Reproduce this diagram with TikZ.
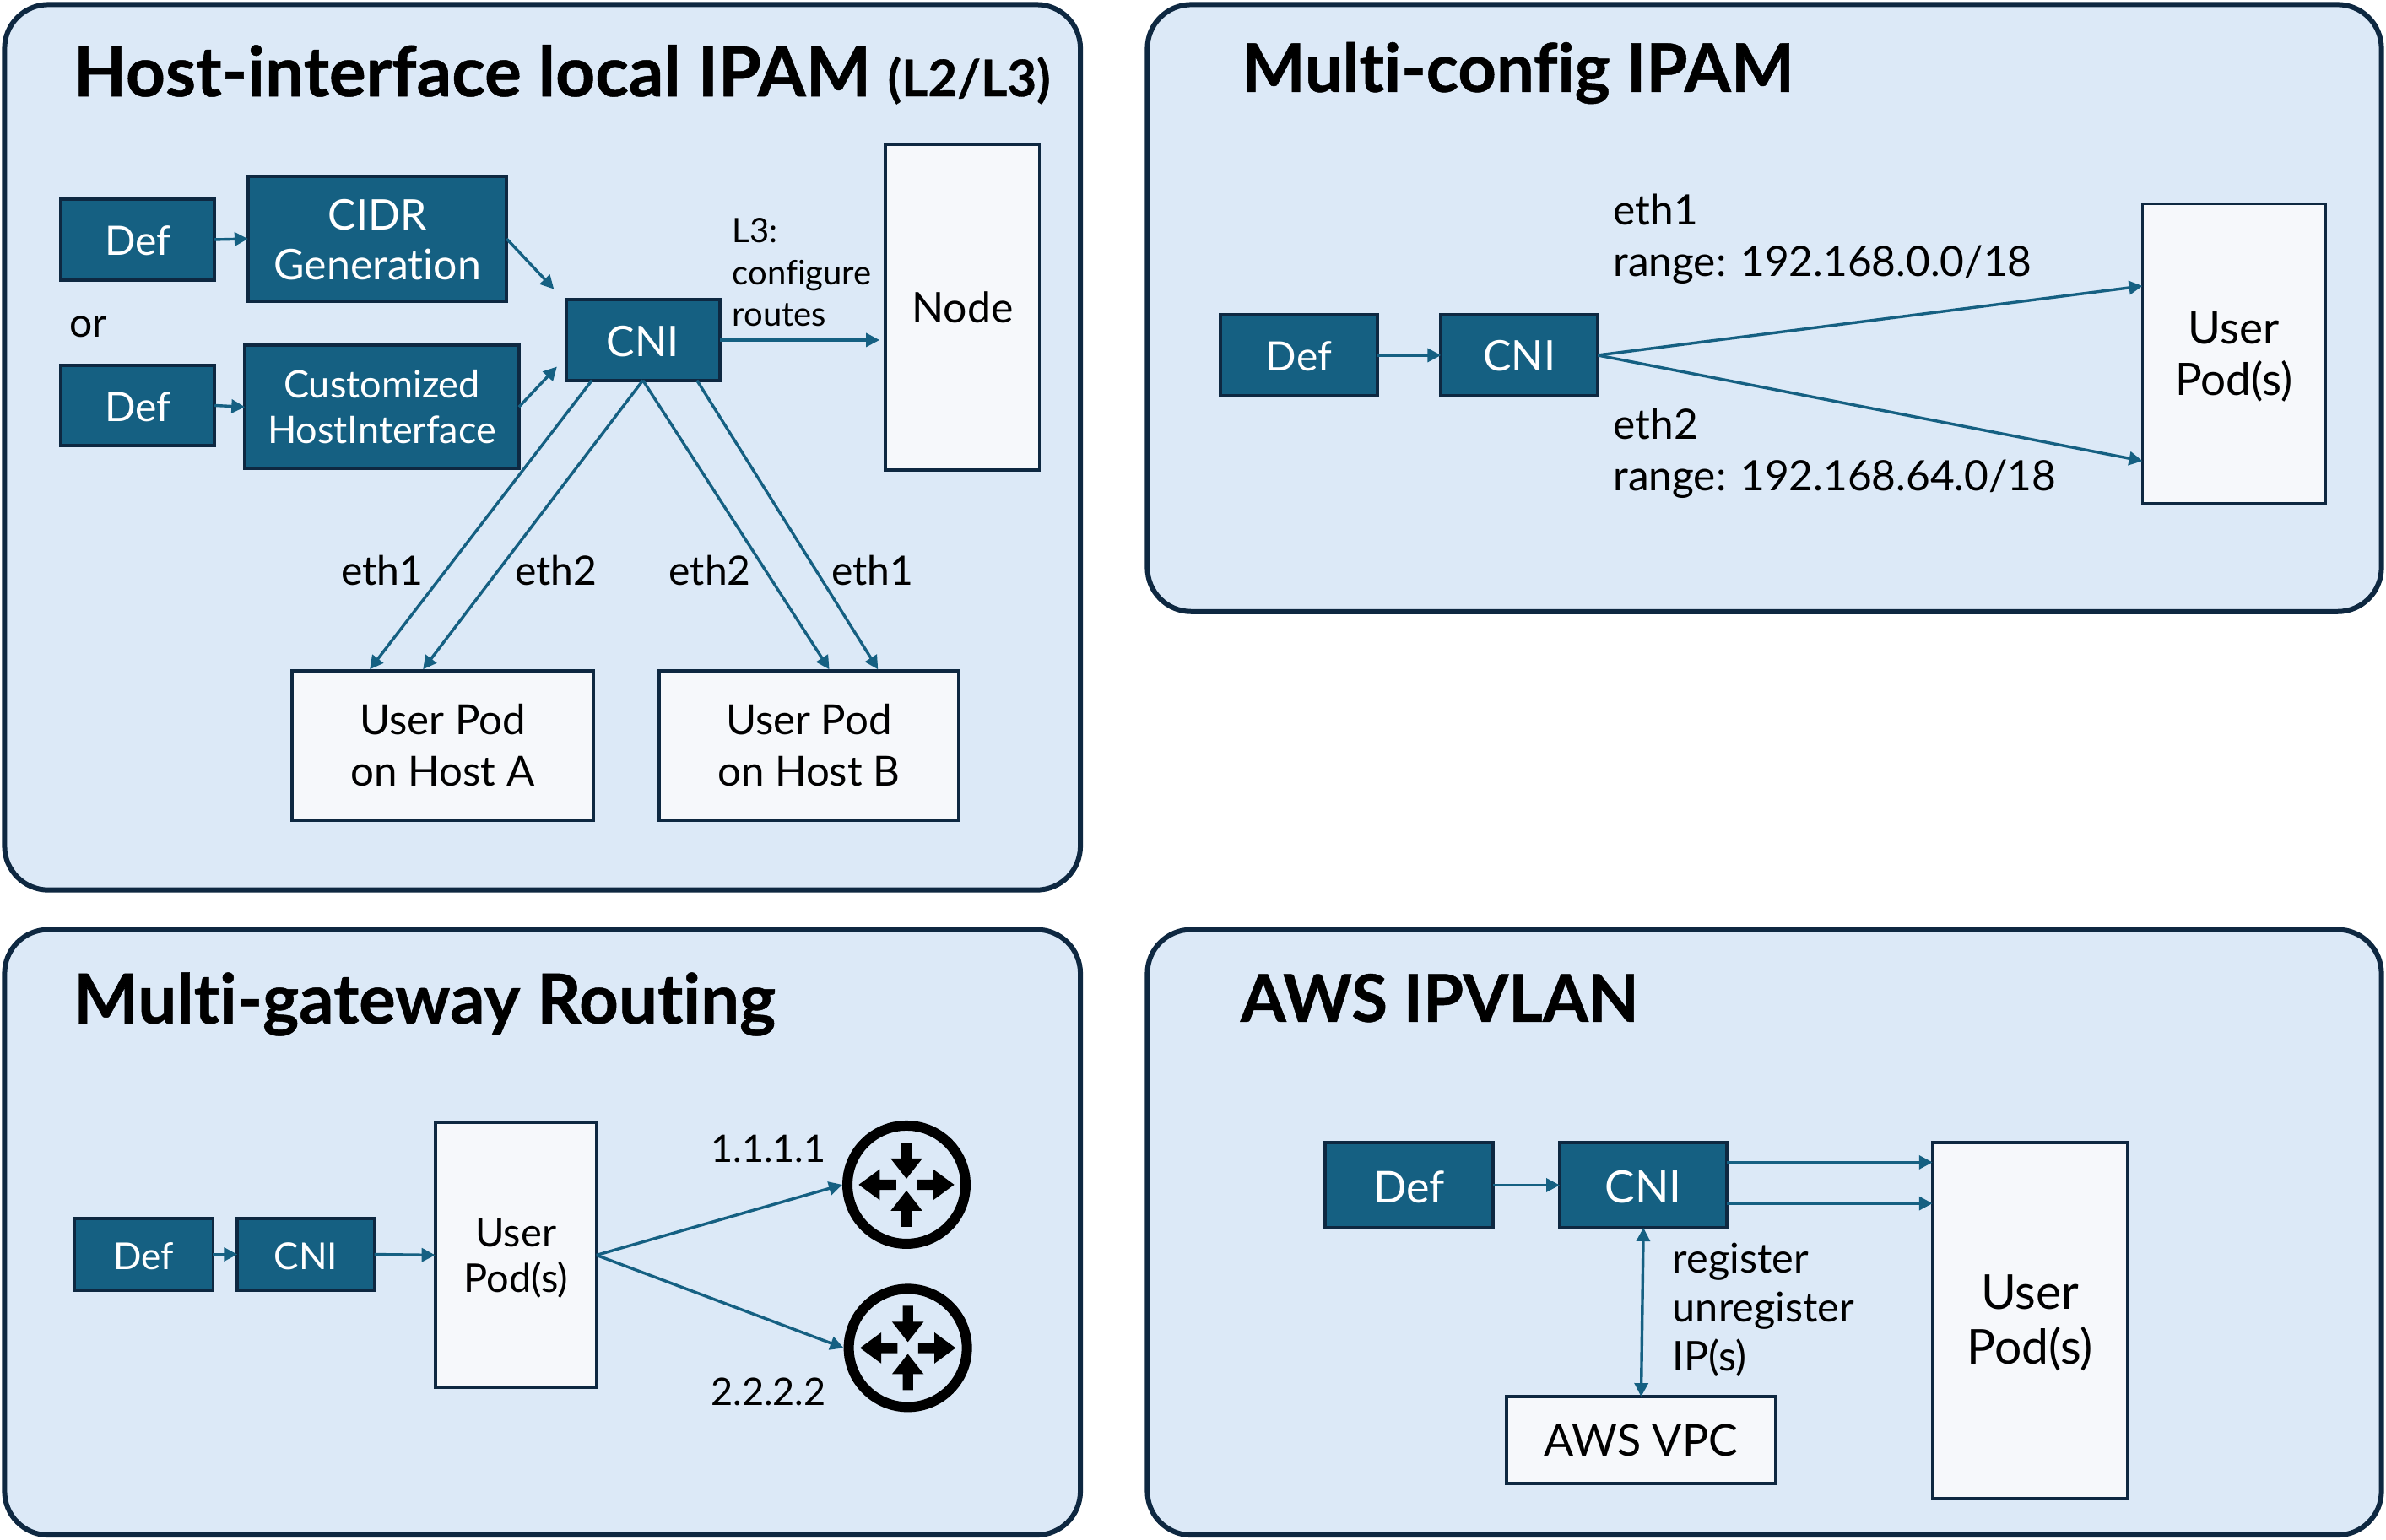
\documentclass[tikz,border=0pt]{standalone}
\usepackage{fontspec}
\setmainfont[Ligatures=NoCommon,BoldFeatures={FakeBold=0.6}]{Lato}
\usetikzlibrary{arrows.meta}
\definecolor{panelfill}{HTML}{DCE9F7}
\definecolor{navy}{HTML}{0E2841}
\definecolor{teal}{HTML}{156082}
\definecolor{lightbox}{HTML}{F6F8FB}
\newcommand{\txtL}{\fontsize{24pt}{29.7pt}\selectfont}
\newcommand{\tp}[1]{\rule{0pt}{#1}}
\tikzset{
  x=0.9015pt, y=-0.9015pt,
  panel/.style={draw=navy, fill=panelfill, line width=3pt, rounded corners=26pt},
  dims/.style n args={2}{minimum width=#1*0.9015pt, minimum height=#2*0.9015pt, inner sep=0pt, outer sep=0pt},
  onel/.style={text height=#1, text depth=0pt},
  darkbox/.style={draw=navy, fill=teal, line width=1.9pt, text=white, align=center},
  whitebox/.style={draw=navy, fill=lightbox, line width=1.9pt, text=black, align=center},
  title/.style={anchor=west, inner sep=0pt, font=\fontsize{41pt}{44pt}\selectfont\bfseries},
  label/.style={inner sep=0pt, align=left, font=\txtL},
  arr/.style={draw=teal, line width=1.7pt, -{Triangle[length=8pt,width=8pt]}},
  barr/.style={draw=teal, line width=1.7pt, {Triangle[length=8pt,width=8pt]}-{Triangle[length=8pt,width=8pt]}},
  routerring/.style={circle, draw=black, line width=6pt, fill=panelfill, minimum size=70pt, inner sep=0pt, outer sep=3pt},
}
\newcommand{\routerarrows}[2]{%
  \begin{scope}[shift={(#1,#2)}]
    \foreach \a in {90,270}{
      \fill[black,rotate=\a] (3.9,0) -- (17.2,-10.4) -- (17.2,-3.4) -- (27.7,-3.4) -- (27.7,3.4) -- (17.2,3.4) -- (17.2,10.4) -- cycle;
    }
    \foreach \a in {0,180}{
      \fill[black,rotate=\a] (31.4,0) -- (17.5,-10.2) -- (17.5,-3.4) -- (6.8,-3.4) -- (6.8,3.4) -- (17.5,3.4) -- (17.5,10.2) -- cycle;
    }
  \end{scope}}
\begin{document}
\begin{tikzpicture}[font=\txtL]
\useasboundingbox (0,0) rectangle (1568,1011.7);
% panels
\draw[panel] (3,3) rectangle (710,585);
\draw[panel] (754,3) rectangle (1565,402);
\draw[panel] (3,611) rectangle (710,1009);
\draw[panel] (754,611) rectangle (1565,1009);
% titles
\node[title] (t1) at (48,49) {Host-interface local IPAM \fontsize{30pt}{32pt}\selectfont (L2/L3)};
\node[title,font=\fontsize{39.7pt}{44pt}\selectfont\bfseries] (t2) at (816,48) {Multi-config IPAM};
\node[title,font=\fontsize{40.8pt}{44pt}\selectfont\bfseries] (t3) at (48,660) {Multi-gateway Routing};
\node[title,font=\fontsize{38.9pt}{44pt}\selectfont\bfseries] (t4) at (815,656) {AWS IPVLAN};
% panel 1
\node[darkbox,dims={101}{53},onel=19pt] (def1) at (90.5,157.5) {Def};
\node[darkbox,dims={170}{82},font=\fontsize{25pt}{29.7pt}\selectfont] (cidr) at (248,157) {\tp{19pt}CIDR\\Generation};
\node[darkbox,dims={101}{53},onel=19pt] (def2) at (90.5,266.5) {Def};
\node[darkbox,dims={180}{81},font=\fontsize{22.5pt}{27pt}\selectfont] (hostif) at (251,267.5) {Customized\\HostInterface};
\node[darkbox,dims={101}{53},font=\fontsize{25pt}{29.7pt}\selectfont,onel=19.8pt] (cni1) at (422.5,223.5) {CNI};
\node[whitebox,dims={101}{214},font=\fontsize{25pt}{29.7pt}\selectfont] (node1) at (632.5,202) {Node};
\node[whitebox,dims={198}{98},font=\fontsize{24.6pt}{30.4pt}\selectfont] (poda) at (291,490) {User Pod\\on Host A};
\node[whitebox,dims={197}{98},font=\fontsize{24.6pt}{30.4pt}\selectfont] (podb) at (531.5,490) {User Pod\\on Host B};
\node[label] (or) at (58,215) {or};
\node[label,anchor=west,font=\fontsize{20pt}{24.7pt}\selectfont] (l3) at (481,179) {L3:\\configure\\routes};
\node[label] (e1a) at (251,375) {eth1};
\node[label] (e2a) at (365.5,375) {eth2};
\node[label] (e2b) at (466.5,375) {eth2};
\node[label] (e1b) at (573.5,375) {eth1};
\coordinate (c1in) at (364,190);
\coordinate (c2in) at (366,241);
\coordinate (nodein) at (578,223.5);
\coordinate (paIn1) at (243,440);
\coordinate (paIn2) at (278,440);
\coordinate (pbIn1) at (545,440);
\coordinate (pbIn2) at (577,440);
\coordinate (cniOut1) at (389,250);
\coordinate (cniOut2) at (458,250);
\draw[arr] (def1.east) -- (cidr.west);
\draw[arr] (def2.east) -- (hostif.west);
\draw[arr] (cidr.east) -- (c1in);
\draw[arr] (hostif.east) -- (c2in);
\draw[arr] (cni1.east) -- (nodein);
\draw[arr] (cniOut1) -- (paIn1);
\draw[arr] (cni1.south) -- (paIn2);
\draw[arr] (cni1.south) -- (pbIn1);
\draw[arr] (cniOut2) -- (pbIn2);
% panel 2
\node[darkbox,dims={103}{53},onel=19pt] (def3) at (853.5,233.5) {Def};
\node[darkbox,dims={103}{53},font=\fontsize{25pt}{29.7pt}\selectfont,onel=18.5pt] (cni2) at (998.5,233.5) {CNI};
\node[whitebox,dims={120}{197},font=\fontsize{26.5pt}{30.4pt}\selectfont] (pods2) at (1468,232.5) {\tp{22.6pt}User\\Pod(s)};
\node[label,anchor=west,font=\fontsize{24.8pt}{30.6pt}\selectfont] (lab21) at (1060,157) {eth1\\range: 192.168.0.0/18};
\node[label,anchor=west,font=\fontsize{24.8pt}{30.6pt}\selectfont] (lab22) at (1060,298) {eth2\\range: 192.168.64.0/18};
\coordinate (p2a) at (1408,188);
\coordinate (p2b) at (1408,303);
\draw[arr] (def3.east) -- (cni2.west);
\draw[arr] (cni2.east) -- (p2a);
\draw[arr] (cni2.east) -- (p2b);
% panel 3
\node[darkbox,dims={91}{47},font=\fontsize{22pt}{27pt}\selectfont,onel=17.6pt] (def4) at (94.5,824.5) {Def};
\node[darkbox,dims={90}{47},font=\fontsize{22pt}{27pt}\selectfont,onel=17.6pt] (cni3) at (201,824.5) {CNI};
\node[whitebox,dims={106}{174},font=\fontsize{23.5pt}{27pt}\selectfont] (pods3) at (339,825) {\tp{20.2pt}User\\Pod(s)};
\node[routerring] (r1) at (595.7,778.7) {};
\routerarrows{595.7}{778.7}
\node[routerring] (r2) at (596.6,886) {};
\routerarrows{596.6}{886}
\node[label,font=\fontsize{22.5pt}{27pt}\selectfont] (ip1) at (505,755) {1.1.1.1};
\node[label,font=\fontsize{22.5pt}{27pt}\selectfont] (ip2) at (505,915) {2.2.2.2};
\draw[arr] (def4.east) -- (cni3.west);
\draw[arr] (cni3.east) -- (pods3.west);
\draw[arr] (pods3.east) -- (r1.west);
\draw[arr] (pods3.east) -- (r2.west);
% panel 4
\node[darkbox,dims={110}{56},font=\fontsize{26pt}{30pt}\selectfont,onel=20.6pt] (def5) at (926,779) {Def};
\node[darkbox,dims={110}{56},font=\fontsize{26.5pt}{30pt}\selectfont,onel=20.6pt] (cni4) at (1080,779) {CNI};
\node[whitebox,dims={128}{234},font=\fontsize{28.5pt}{32.5pt}\selectfont] (pods4) at (1334,868) {\tp{23pt}User\\Pod(s)};
\node[whitebox,dims={177}{57},font=\fontsize{26pt}{30pt}\selectfont] (vpc) at (1078.5,946.5) {AWS VPC};
\node[label,anchor=west,font=\fontsize{24.3pt}{29pt}\selectfont] (reg) at (1099,861) {register\\unregister\\IP(s)};
\coordinate (c4a) at (1135,764);
\coordinate (c4b) at (1135,791);
\coordinate (u4a) at (1270,764);
\coordinate (u4b) at (1270,791);
\draw[arr] (def5.east) -- (cni4.west);
\draw[arr] (c4a) -- (u4a);
\draw[arr] (c4b) -- (u4b);
\draw[barr] (cni4.south) -- (vpc.north);
\end{tikzpicture}
\end{document}
